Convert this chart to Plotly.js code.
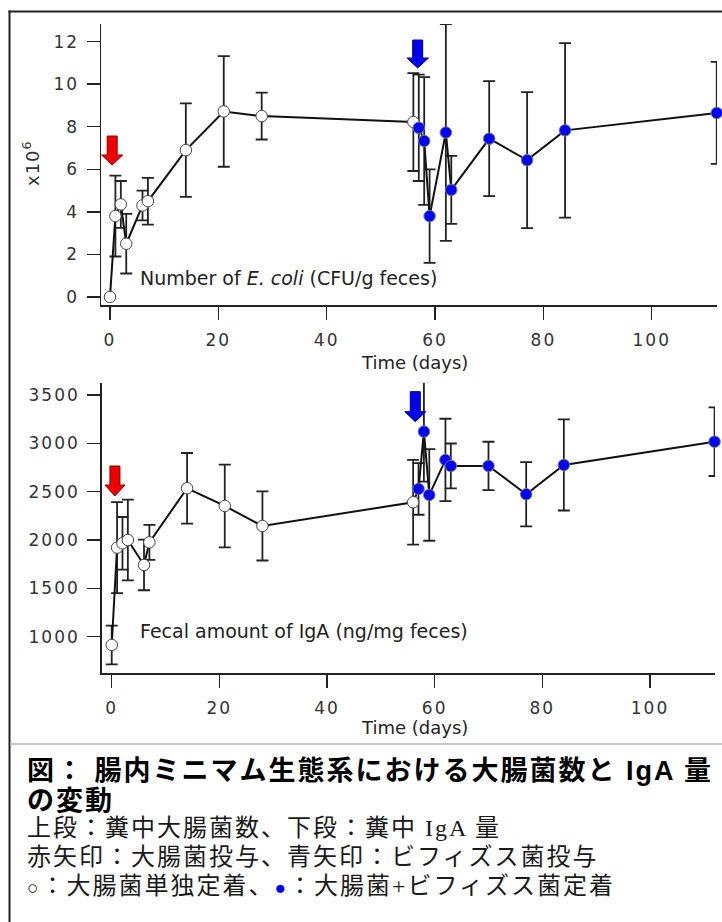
<!DOCTYPE html>
<html><head><meta charset="utf-8">
<script src="https://cdn.plot.ly/plotly-3.0.1.min.js"></script>
<style>
html,body{margin:0;padding:0;background:#fff;}
#chart{width:722px;height:922px;}
.xtick text,.ytick text,.x2tick text,.y2tick text{letter-spacing:2px;}
.annotation[data-index="0"] text{letter-spacing:1px;}
.annotation[data-index="5"] text,.annotation[data-index="6"] text{letter-spacing:2px;}
.annotation[data-index="7"] text,.annotation[data-index="8"] text,.annotation[data-index="9"] text{letter-spacing:2px;}
</style></head>
<body><div id="chart"></div>
<script>
// ---- data ----
const days = [0, 1, 2, 3, 6, 7, 14, 21, 28, 56, 57, 58, 59, 62, 63, 70, 77, 84, 112];
// group: 'mono' = E. coli alone (open circles), 'bif' = E. coli + Bifidobacterium (blue dots)
const group = ['mono','mono','mono','mono','mono','mono','mono','mono','mono','mono',
               'bif','bif','bif','bif','bif','bif','bif','bif','bif'];
// Number of E. coli (x10^6 CFU/g feces)
const ecoli    = [0, 3.8, 4.35, 2.5, 4.3, 4.5, 6.9, 8.72, 8.5, 8.22, 7.95, 7.33, 3.8, 7.73, 5.03, 7.44, 6.43, 7.83, 8.65];
const ecoliErr = [0, 1.9, 1.1, 1.4, 0.7, 1.1, 2.2, 2.6, 1.1, 2.3, 2.5, 3.0, 2.2, 5.1, 1.6, 2.7, 3.2, 4.1, 2.4];
// Fecal amount of IgA (ng/mg feces)
const iga    = [914, 1921, 1966, 2000, 1742, 1976, 2535, 2352, 2145, 2390, 2528, 3121, 2466, 2828, 2766, 2766, 2473, 2776, 3017];
const igaErr = [200, 470, 272, 418, 262, 181, 365, 428, 357, 438, 267, 517, 474, 426, 232, 250, 333, 471, 355];
// tick labels
const xTicks = [0, 20, 40, 60, 80, 100];
const ecoliTicks = [0, 2, 4, 6, 8, 10, 12];
const igaTicks = [1000, 1500, 2000, 2500, 3000, 3500];
// dosing arrows: [day, value at arrow tip]
const arrowDays   = [0.4, 56.8];   // red: E. coli, blue: Bifidobacterium
const arrowEcoliY = [6.2, 10.76];
const arrowDays2  = [0.6, 56.4];
const arrowIgaY   = [2455, 3224];
const arrowFill   = ['#ee0000', '#0000ee'];
const arrowEdge   = ['#8a0000', '#000080'];
// texts
const yTitleTop = 'x10<sup>6</sup>';
const labelTop = 'Number of <i>E. coli</i> (CFU/g feces)';
const labelBottom = 'Fecal amount of IgA (ng/mg feces)';
const xTitle = 'Time (days)';
const captionLines = [
  '図：&nbsp;腸内ミニマム生態系における大腸菌数と IgA 量',
  'の変動',
  '上段：糞中大腸菌数、下段：糞中 IgA 量',
  '赤矢印：大腸菌投与、青矢印：ビフィズス菌投与',
  '<span style="font-size:19px">○</span>：大腸菌単独定着、<span style="color:#0000ff;font-size:19px">●</span>：大腸菌+ビフィズス菌定着'
];

// ---- styling ----
const W = 722, H = 922;
const px = v => v / W;
const py = v => 1 - v / H;
const fillFor = g => g === 'mono' ? '#ffffff' : '#0000ff';
const edgeFor = g => g === 'mono' ? '#444444' : '#7a7a7a';
const tickFont = {family: 'DejaVu Sans', size: 17, color: '#333'};

function series(y, err, xa, ya) {
  return {
    type: 'scatter', mode: 'lines+markers', x: days, y: y, xaxis: xa, yaxis: ya,
    cliponaxis: false, hoverinfo: 'skip',
    line: {color: '#111', width: 2},
    marker: {size: 11.5, color: group.map(fillFor), line: {color: group.map(edgeFor), width: 1}},
    error_y: {type: 'data', array: err, visible: true, color: '#222', thickness: 1.8, width: 6}
  };
}

const axisCommon = {
  showline: true, linecolor: '#222', linewidth: 1.5, ticks: 'outside', tickcolor: '#222',
  tickwidth: 1.5, ticklen: 13, showgrid: false, zeroline: false, tickfont: tickFont,
  fixedrange: true, tickmode: 'array'
};

function arrowShape(dx, vy, xref, yref, i, total, head, half) {
  return {
    type: 'path', xref: xref, yref: yref, xsizemode: 'pixel', ysizemode: 'pixel',
    xanchor: dx, yanchor: vy,
    path: `M0,0 L${-half},${head} L-5,${head} L-5,${total} L5,${total} L5,${head} L${half},${head} Z`,
    fillcolor: arrowFill[i], line: {color: arrowEdge[i], width: 1}
  };
}

const shapes = [
  // figure frame
  {type: 'line', xref: 'paper', yref: 'paper', x0: px(9.5), x1: px(9.5), y0: py(10.5), y1: py(922), line: {color: '#222', width: 2}},
  {type: 'line', xref: 'paper', yref: 'paper', x0: px(8.5), x1: px(722), y0: py(11.5), y1: py(11.5), line: {color: '#222', width: 2}},
  {type: 'line', xref: 'paper', yref: 'paper', x0: px(10), x1: px(722), y0: py(744), y1: py(744), line: {color: '#b4b4b4', width: 1.5}},
  arrowShape(arrowDays[0], arrowEcoliY[0], 'x', 'y', 0, 29, 10, 10.5),
  arrowShape(arrowDays[1], arrowEcoliY[1], 'x', 'y', 1, 28, 10, 10.8),
  arrowShape(arrowDays2[0], arrowIgaY[0], 'x2', 'y2', 0, 30, 11, 10),
  arrowShape(arrowDays2[1], arrowIgaY[1], 'x2', 'y2', 1, 30, 10, 10.5)
];

const annotations = [
  {xref: 'paper', yref: 'paper', x: px(31), y: py(163), text: yTitleTop, textangle: -90, showarrow: false,
   font: {family: 'DejaVu Sans', size: 18, color: '#333'}, xanchor: 'center', yanchor: 'middle'},
  {xref: 'paper', yref: 'paper', x: px(138), y: py(278), text: labelTop, showarrow: false, align: 'left',
   font: {family: 'DejaVu Sans', size: 19, color: '#222'}, xanchor: 'left', yanchor: 'middle'},
  {xref: 'paper', yref: 'paper', x: px(138), y: py(631), text: labelBottom, showarrow: false, align: 'left',
   font: {family: 'DejaVu Sans', size: 19, color: '#222'}, xanchor: 'left', yanchor: 'middle'},
  {xref: 'paper', yref: 'paper', x: px(415), y: py(362), text: xTitle, showarrow: false,
   font: {family: 'DejaVu Sans', size: 18, color: '#222'}, xanchor: 'center', yanchor: 'middle'},
  {xref: 'paper', yref: 'paper', x: px(415), y: py(727), text: xTitle, showarrow: false,
   font: {family: 'DejaVu Sans', size: 18, color: '#222'}, xanchor: 'center', yanchor: 'middle'}
];
const capY = [771, 801, 828, 857, 886];
captionLines.forEach((t, i) => {
  const bold = i < 2;
  annotations.push({
    xref: 'paper', yref: 'paper', x: px(25), y: py(capY[i]), text: t, showarrow: false,
    align: 'left', xanchor: 'left', yanchor: 'middle',
    font: bold ? {family: 'Liberation Sans, Noto Sans CJK JP', size: 27, weight: 700, color: '#000'}
               : {family: 'Liberation Serif, Noto Sans CJK JP', size: 24, color: '#1a1a1a'}
  });
});

const layout = {
  width: W, height: H, margin: {l: 0, r: 0, t: 0, b: 0},
  paper_bgcolor: '#fff', plot_bgcolor: 'rgba(0,0,0,0)', showlegend: false,
  xaxis: Object.assign({}, axisCommon, {domain: [px(101), px(717)], range: [-1.66, 112.05], anchor: 'y',
    tickvals: xTicks, ticktext: xTicks.map(String), ticklabelstandoff: 6}),
  yaxis: Object.assign({}, axisCommon, {domain: [py(305), py(24)], range: [-0.38, 12.83], anchor: 'x',
    tickvals: ecoliTicks, ticktext: ecoliTicks.map(String), ticklabelstandoff: 4}),
  xaxis2: Object.assign({}, axisCommon, {domain: [px(101.7), px(715)], range: [-1.86, 112.08], anchor: 'y2',
    tickvals: xTicks, ticktext: xTicks.map(String), ticklabelstandoff: 6}),
  yaxis2: Object.assign({}, axisCommon, {domain: [py(673.3), py(382.7)], range: [621, 3627], anchor: 'x2',
    tickvals: igaTicks, ticktext: igaTicks.map(String), ticklabelstandoff: 4}),
  shapes: shapes,
  annotations: annotations
};

Plotly.newPlot('chart', [series(ecoli, ecoliErr, 'x', 'y'), series(iga, igaErr, 'x2', 'y2')], layout,
  {staticPlot: true, displayModeBar: false});
</script>
</body></html>
